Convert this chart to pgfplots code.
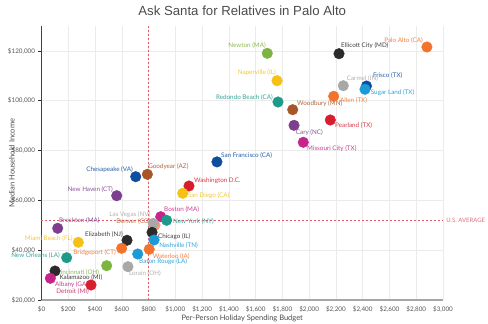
\documentclass[border=0pt]{standalone}
\usepackage{pgfplots}
\pgfplotsset{compat=1.18}
\usepackage{fontspec}
\setmainfont{Lato}
\newfontfamily\titlefont{Liberation Sans}
\definecolor{cOrange}{HTML}{F3722C}
\definecolor{cBlack}{HTML}{2B2B2B}
\definecolor{cGreen}{HTML}{7DB33F}
\definecolor{cYellow}{HTML}{F5C116}
\definecolor{cGray}{HTML}{A8A8A8}
\definecolor{cDBlue}{HTML}{0D4E9E}
\definecolor{cLBlue}{HTML}{1A9BD7}
\definecolor{cTeal}{HTML}{1E9A8A}
\definecolor{cBrown}{HTML}{A8552A}
\definecolor{cRed}{HTML}{D81E2E}
\definecolor{cPurple}{HTML}{7B3F8E}
\definecolor{cMagenta}{HTML}{C4258A}
\definecolor{cDenver}{HTML}{F0A070}
\definecolor{refline}{HTML}{E06070}
\definecolor{gridc}{HTML}{EBEBEB}
\definecolor{tickc}{HTML}{555555}
\tikzset{lab/.style={inner sep=0pt, font=\fontsize{6.3}{7}\selectfont, text opacity=0.9}}
\pgfplotsset{dot/.style={only marks, mark=*, mark size=5.3pt, color=#1, mark options={draw=#1, fill=#1}}}
\begin{document}
\begin{tikzpicture}
\useasboundingbox (-41.5pt,-24pt) rectangle (446.5pt,300pt);
\begin{axis}[
  scale only axis,
  width=401.5pt, height=274pt,
  xmin=0, xmax=3000, ymin=20000, ymax=130000,
  axis lines*=left,
  axis line style={-},
  x axis line style={draw=gray!70, line width=1.6pt},
  y axis line style={draw=cBlack!90, line width=1.1pt},
  xtick={0,200,...,3000},
  ytick={20000,40000,...,120000},
  scaled ticks=false,
  xtick style={draw=none},
  ytick style={draw=cBlack, line width=0.6pt},
  tick align=outside,
  major tick length=3pt,
  grid=major,
  major grid style={draw=gridc, line width=0.5pt},
  xticklabel={\$\pgfmathprintnumber[fixed,precision=0,1000 sep={,},assume math mode=true]{\tick}},
  yticklabel={\$\pgfmathprintnumber[fixed,precision=0,1000 sep={,},assume math mode=true]{\tick}},
  tick label style={font=\fontsize{6.3}{7}\selectfont, text=tickc},
  xlabel={Per-Person Holiday Spending Budget},
  ylabel={Median Household Income},
  label style={font=\fontsize{7.5}{9}\selectfont, text=cBlack!85},
  xlabel style={at={(axis description cs:0.5,0)}, anchor=center, yshift=-18pt},
  ylabel style={at={(axis description cs:-0.0735,0.5)}, anchor=center},
  title={Ask Santa for Relatives in Palo Alto},
  title style={at={(axis description cs:0.5,1)}, anchor=center, yshift=9pt, font=\titlefont\fontsize{13.2}{15}\selectfont, text=cBlack!85},
  clip=false,
]
% reference lines
\addplot[refline, line width=0.7pt, dash pattern=on 2pt off 2pt] coordinates {(800,20000) (800,130000)};
\addplot[refline, line width=0.7pt, dash pattern=on 2pt off 2pt] coordinates {(0,51900) (3000,51900)}
  node[lab, anchor=west, xshift=3pt, text=refline, font=\fontsize{6}{7}\selectfont] {U.S. AVERAGE};
% points
\addplot[dot=cOrange] coordinates {(2880,121570)} node[lab, anchor=east, xshift=-4pt, yshift=6pt, text=cOrange] {Palo Alto (CA)};
\addplot[dot=cBlack] coordinates {(2223,118880)} node[lab, anchor=west, xshift=2pt, yshift=8pt, text=cBlack] {Ellicott City (MD)};
\addplot[dot=cGreen] coordinates {(1687,119040)} node[lab, anchor=east, xshift=-1.3pt, yshift=8pt, text=cGreen] {Newton (MA)};
\addplot[dot=cYellow] coordinates {(1760,108040)} node[lab, anchor=east, xshift=-1pt, yshift=8pt, text=cYellow] {Naperville (IL)};
\addplot[dot=cDBlue] coordinates {(2428,105910)} node[lab, anchor=west, xshift=6.5pt, yshift=10.5pt, text=cDBlue] {Frisco (TX)};
\addplot[dot=cGray] coordinates {(2255,106030)} node[lab, anchor=west, xshift=3.4pt, yshift=6.7pt, text=cGray] {Carmel (IN)};
\addplot[dot=cLBlue] coordinates {(2417,104590)} node[lab, anchor=west, xshift=5.7pt, yshift=-3.4pt, text=cLBlue] {Sugar Land (TX)};
\addplot[dot=cOrange] coordinates {(2183,101780)} node[lab, anchor=west, xshift=6.3pt, yshift=-4.4pt, text=cOrange] {Allen (TX)};
\addplot[dot=cTeal] coordinates {(1767,99490)} node[lab, anchor=east, xshift=-5pt, yshift=4.7pt, text=cTeal] {Redondo Beach (CA)};
\addplot[dot=cBrown] coordinates {(1877,96400)} node[lab, anchor=west, xshift=4.3pt, yshift=6.4pt, text=cBrown] {Woodbury (MN)};
\addplot[dot=cRed] coordinates {(2158,92260)} node[lab, anchor=west, xshift=4.7pt, yshift=-5.3pt, text=cRed] {Pearland (TX)};
\addplot[dot=cPurple] coordinates {(1887,90130)} node[lab, anchor=west, xshift=1.7pt, yshift=-7.7pt, text=cPurple] {Cary (NC)};
\addplot[dot=cMagenta] coordinates {(1956,83310)} node[lab, anchor=west, xshift=3.7pt, yshift=-6.4pt, text=cMagenta] {Missouri City (TX)};
\addplot[dot=cDBlue] coordinates {(1311,75440)} node[lab, anchor=west, xshift=4pt, yshift=6pt, text=cDBlue] {San Francisco (CA)};
\addplot[dot=cDBlue] coordinates {(704,69500)} node[lab, anchor=east, xshift=-2.7pt, yshift=7.4pt, text=cDBlue] {Chesapeake (VA)};
\addplot[dot=cBrown] coordinates {(791,70460)} node[lab, anchor=west, xshift=0.7pt, yshift=7.6pt, text=cBrown] {Goodyear (AZ)};
\addplot[dot=cRed] coordinates {(1102,65770)} node[lab, anchor=west, xshift=5pt, yshift=5.3pt, text=cRed] {Washington D.C.};
\addplot[dot=cYellow] coordinates {(1055,62840)} node[lab, anchor=west, xshift=5pt, yshift=-2.4pt, text=cYellow] {San Diego (CA)};
\addplot[dot=cPurple] coordinates {(562,61870)} node[lab, anchor=east, xshift=-3.7pt, yshift=5.7pt, text=cPurple] {New Haven (CT)};
\addplot[dot=cMagenta] coordinates {(891,53440)} node[lab, anchor=west, xshift=3.3pt, yshift=6.7pt, text=cMagenta] {Boston (MA)};
\addplot[dot=cTeal] coordinates {(935,52000)} node[lab, anchor=west, xshift=6.3pt, yshift=-1.7pt, text=cTeal] {New York (NY)};
\addplot[dot=cDenver] coordinates {(848,49990)} node[lab, anchor=east, xshift=-4.3pt, yshift=3.6pt, text=cBrown!80!cOrange] {Denver (CO)};
\addplot[dot=cGray] coordinates {(835,50790)} node[lab, anchor=east, xshift=-2.6pt, yshift=8.3pt, text=cGray] {Las Vegas (NV)};
\addplot[dot=cBlack] coordinates {(826,47180)} node[lab, anchor=west, xshift=6pt, yshift=-4.4pt, text=cBlack] {Chicago (IL)};
\addplot[dot=cLBlue] coordinates {(841,44090)} node[lab, anchor=west, xshift=5pt, yshift=-5.3pt, text=cLBlue] {Nashville (TN)};
\addplot[dot=cPurple] coordinates {(121,48790)} node[lab, anchor=west, xshift=1.3pt, yshift=7.3pt, text=cPurple] {Brockton (MA)};
\addplot[dot=cYellow] coordinates {(275,43160)} node[lab, anchor=east, xshift=-5.6pt, yshift=4pt, text=cYellow] {Miami Beach (FL)};
\addplot[dot=cBlack] coordinates {(639,43970)} node[lab, anchor=east, xshift=-4pt, yshift=5.3pt, text=cBlack] {Elizabeth (NJ)};
\addplot[dot=cOrange] coordinates {(599,40760)} node[lab, anchor=east, xshift=-5.7pt, yshift=-4pt, text=cOrange] {Bridgeport (CT)};
\addplot[dot=cOrange] coordinates {(805,40350)} node[lab, anchor=west, xshift=3.4pt, yshift=-7.4pt, text=cOrange] {Waterloo (IA)};
\addplot[dot=cLBlue] coordinates {(719,38470)} node[lab, anchor=west, xshift=1.3pt, yshift=-7.7pt, text=cLBlue] {Baton Rouge (LA)};
\addplot[dot=cTeal] coordinates {(188,36980)} node[lab, anchor=east, xshift=-6.7pt, yshift=2pt, text=cTeal] {New Orleans (LA)};
\addplot[dot=cGreen] coordinates {(487,33770)} node[lab, anchor=east, xshift=-7.4pt, yshift=-7pt, text=cGreen] {Cincinnati (OH)};
\addplot[dot=cGray] coordinates {(646,33370)} node[lab, anchor=west, xshift=1pt, yshift=-7.3pt, text=cGray] {Lorain (OH)};
\addplot[dot=cBlack] coordinates {(101,31640)} node[lab, anchor=west, xshift=4.3pt, yshift=-7pt, text=cBlack] {Kalamazoo (MI)};
\addplot[dot=cMagenta] coordinates {(66,28710)} node[lab, anchor=west, xshift=4.7pt, yshift=-6.4pt, text=cMagenta] {Albany (GA)};
\addplot[dot=cRed] coordinates {(370,26020)} node[lab, anchor=east, xshift=-2pt, yshift=-6.3pt, text=cMagenta!60!cRed] {Detroit (MI)};
\end{axis}
\end{tikzpicture}
\end{document}
